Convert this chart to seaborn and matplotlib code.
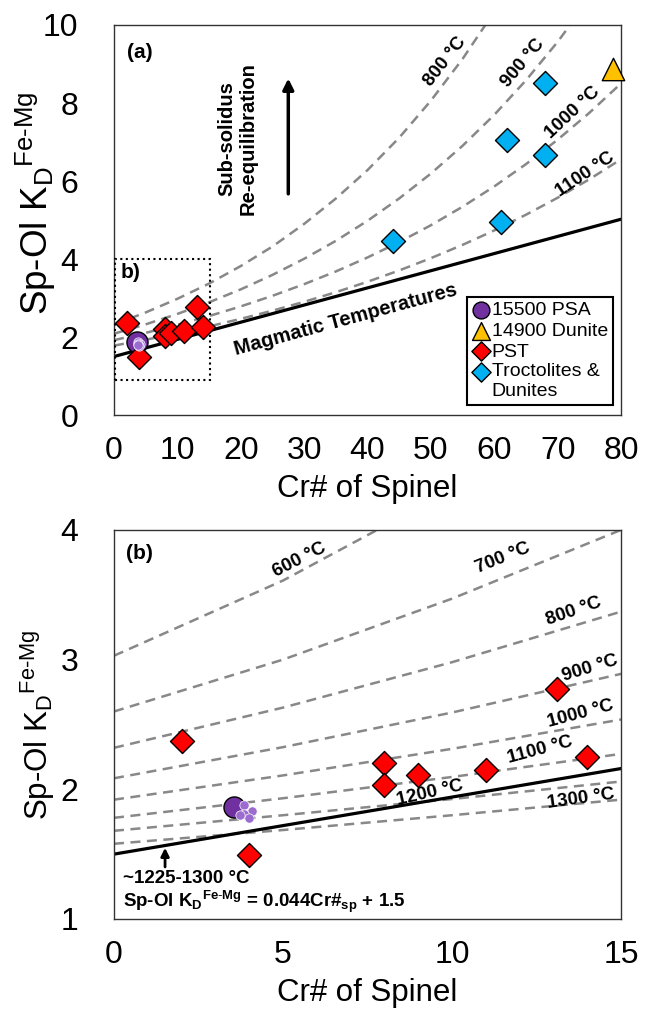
import numpy as np
import pandas as pd
import matplotlib
matplotlib.use("Agg")
import matplotlib.pyplot as plt
import seaborn as sns
from matplotlib.patches import Rectangle
from matplotlib.legend_handler import HandlerPathCollection

sns.set_theme(style="white")
plt.rcParams["font.family"] = ["Liberation Sans", "DejaVu Sans"]
plt.rcParams["mathtext.fontset"] = "custom"
plt.rcParams["mathtext.rm"] = "Liberation Sans"
plt.rcParams["mathtext.bf"] = "Liberation Sans:bold"
plt.rcParams["mathtext.it"] = "Liberation Sans:italic"
plt.rcParams["text.color"] = "black"
plt.rcParams["axes.labelcolor"] = "black"

# ---------------- data ----------------
psa_cr = [3.55]
psa_kd = [1.86]
psa_small_cr = [3.86, 4.08, 3.86, 4.00, 3.72]
psa_small_kd = [1.88, 1.83, 1.81, 1.78, 1.80]
dunite_cr = [78.8]
dunite_kd = [8.88]
pst_cr = [2, 4, 8, 8, 9, 11, 13.1, 14]
pst_kd = [2.37, 1.49, 2.20, 2.03, 2.11, 2.15, 2.77, 2.25]
troc_cr = [44, 61, 62, 68, 68]
troc_kd = [4.45, 4.96, 7.05, 6.67, 8.50]

# magmatic temperature line
mag_cr = [0, 80]
mag_kd = [1.5, 5.02]

# isotherms (dashed)
iso_cr = [0, 5, 10, 15, 20, 25, 30, 35, 40, 45, 50, 55, 60, 65, 70, 75, 80]
iso_800 = [2.32, 2.63, 2.98, 3.37, 3.82, 4.32, 4.90, 5.55, 6.28, 7.11, 8.06, 9.13, 10.34]
iso_900 = [2.085, 2.325, 2.592, 2.890, 3.222, 3.593, 4.006, 4.466, 4.980, 5.553,
           6.191, 6.903, 7.696, 8.581, 9.567, 10.668]
iso_1000 = [1.920, 2.107, 2.312, 2.538, 2.785, 3.057, 3.355, 3.681, 4.040, 4.434,
            4.866, 5.341, 5.861, 6.432, 7.059, 7.747, 8.502]
iso_1100 = [1.780, 1.931, 2.095, 2.273, 2.466, 2.676, 2.903, 3.149, 3.417, 3.707,
            4.022, 4.363, 4.733, 5.135, 5.571, 6.044, 6.557]
iso_600 = [3.03, 3.61, 4.31]
iso_700 = [2.60, 3.00, 3.47, 4.00]
iso_1200 = [1.68, 1.80, 1.925, 2.06]
iso_1300 = [1.58, 1.686, 1.80, 1.92]

top_isos = {"800": iso_800, "900": iso_900, "1000": iso_1000, "1100": iso_1100}
bot_isos = {"600": iso_600, "700": iso_700, "800": iso_800, "900": iso_900,
            "1000": iso_1000, "1100": iso_1100, "1200": iso_1200, "1300": iso_1300}

# ---------------- styling ----------------
PURPLE = "#7030A0"
LPURPLE = "#9B6BD0"
ORANGE = "#FFC000"
RED = "#FF0000"
BLUE = "#00B0F0"
GREY = "#888888"
DASH = (0, (4, 2.6))

fig = plt.figure(figsize=(6.53, 10.16), dpi=100)
ax1 = fig.add_axes([0.1746, 0.5915, 0.7764, 0.3839])
ax2 = fig.add_axes([0.1746, 0.0955, 0.7764, 0.3829])


def draw_lines(ax, isos):
    for name, vals in isos.items():
        sns.lineplot(x=iso_cr[:len(vals)], y=vals, ax=ax, color=GREY, lw=1.8,
                     linestyle=DASH, sort=False, estimator=None, zorder=1)
    sns.lineplot(x=mag_cr, y=mag_kd, ax=ax, color="black", lw=2.3,
                 sort=False, estimator=None, zorder=2)


def draw_points(ax):
    sns.scatterplot(x=psa_cr, y=psa_kd, ax=ax, marker="o", s=230, color=PURPLE,
                    edgecolor="black", linewidth=1.0, label="15500 PSA", zorder=5,
                    legend=False)
    sns.scatterplot(x=psa_small_cr, y=psa_small_kd, ax=ax, marker="o", s=45,
                    color=LPURPLE, edgecolor="white", linewidth=0.5, zorder=6,
                    legend=False)
    sns.scatterplot(x=dunite_cr, y=dunite_kd, ax=ax, marker="^", s=260, color=ORANGE,
                    edgecolor="black", linewidth=1.0, label="14900 Dunite", zorder=5,
                    clip_on=False, legend=False)
    sns.scatterplot(x=pst_cr, y=pst_kd, ax=ax, marker="D", s=150, color=RED,
                    edgecolor="black", linewidth=1.0, label="PST", zorder=5,
                    legend=False)
    sns.scatterplot(x=troc_cr, y=troc_kd, ax=ax, marker="D", s=150, color=BLUE,
                    edgecolor="black", linewidth=1.0, label="Troctolites &\nDunites",
                    zorder=5, legend=False)


YLABEL = r"Sp-Ol K$_\mathregular{D}$$^\mathregular{Fe\text{-}Mg}$"
for ax in (ax1, ax2):
    draw_lines(ax, top_isos if ax is ax1 else bot_isos)
    draw_points(ax)
    for sp in ax.spines.values():
        sp.set_visible(True)
        sp.set_color("#333333")
        sp.set_linewidth(1.0)
    ax.tick_params(axis="both", which="major", direction="out", length=7,
                   width=1.0, color="#333333", labelsize=23, labelcolor="black")
    ax.tick_params(axis="x", pad=8)
    ax.tick_params(axis="y", pad=18.5)
    ax.set_xlabel("Cr# of Spinel", fontsize=22.5, labelpad=6)
    ax.grid(False)

ax1.set_ylabel(YLABEL, fontsize=26.5)
ax1.yaxis.set_label_coords(-0.110, 0.542)
ax2.set_ylabel(YLABEL, fontsize=22.5)
ax2.yaxis.set_label_coords(-0.112, 0.499)


class UpHandler(HandlerPathCollection):
    def get_ydata(self, legend, xdescent, ydescent, width, height, fontsize):
        y = super().get_ydata(legend, xdescent, ydescent, width, height, fontsize)
        return np.asarray(y) + 0.55 * fontsize


# ---- top panel ----
ax1.set_xlim(0, 80)
ax1.set_ylim(0, 10)
ax1.set_xticks(range(0, 81, 10))
ax1.set_yticks(range(0, 11, 2))
handles, labels = ax1.get_legend_handles_labels()
keep = [i for i, l in enumerate(labels) if not l.startswith("_")]
handles = [handles[i] for i in keep]
labels = [labels[i] for i in keep]
leg = ax1.legend(handles, labels, loc="lower right", bbox_to_anchor=(0.984, 0.026),
                 fontsize=14, frameon=True, fancybox=False, framealpha=1,
                 edgecolor="black", handletextpad=0.1, handlelength=0.9,
                 labelspacing=0.15, borderpad=0.25, borderaxespad=0,
                 markerscale=0.8, scatterpoints=1,
                 handler_map={handles[-1]: UpHandler()})
leg.get_frame().set_linewidth(1.5)

ax1.text(2, 9.3, "(a)", fontsize=15, fontweight="bold", ha="left", va="center")
ax1.text(19.5, 7.1, "Sub-solidus\nRe-equilibration", fontsize=14.5, fontweight="bold",
         rotation=90, ha="center", va="center", multialignment="center",
         linespacing=1.1)
ax1.annotate("", xy=(27.5, 8.7), xytext=(27.5, 5.6),
             arrowprops=dict(arrowstyle="-|>", lw=2.5, color="black",
                             mutation_scale=16))
ax1.text(36.5, 2.45, "Magmatic Temperatures", fontsize=14.5, fontweight="bold",
         rotation=np.degrees(np.arctan(0.044)), transform_rotates_text=True,
         rotation_mode="anchor", ha="center", va="center")
ax1.add_patch(Rectangle((0.2, 0.9), 15.0, 3.1, fill=False, ls=":", lw=1.5,
                        ec="black", zorder=3))
ax1.text(1.0, 3.65, "b)", fontsize=15, fontweight="bold", ha="left", va="center")

top_labels = [("800 °C", 52.3, 9.05, 52), ("900 °C", 64.6, 9.03, 50),
              ("1000 °C", 72.4, 7.75, 43), ("1100 °C", 74.4, 6.17, 34)]
for txt, x, y, r in top_labels:
    ax1.text(x, y, txt, fontsize=13.5, fontweight="bold", rotation=r,
             rotation_mode="anchor", ha="center", va="center")

# ---- bottom panel ----
ax2.set_xlim(0, 15)
ax2.set_ylim(1, 4)
ax2.set_xticks([0, 5, 10, 15])
ax2.set_yticks([1, 2, 3, 4])

ax2.text(0.35, 3.82, "(b)", fontsize=15, fontweight="bold", ha="left", va="center")
bot_labels = [("600 °C", 5.48, 3.77, 27), ("700 °C", 11.5, 3.78, 22),
              ("800 °C", 13.6, 3.37, 19), ("900 °C", 14.1, 2.93, 17),
              ("1000 °C", 13.8, 2.58, 15), ("1100 °C", 12.6, 2.30, 15),
              ("1200 °C", 9.34, 1.97, 13), ("1300 °C", 13.8, 1.93, 8)]
for txt, x, y, r in bot_labels:
    ax2.text(x, y, txt, fontsize=13.5, fontweight="bold", rotation=r,
             rotation_mode="anchor", ha="center", va="center")

ax2.annotate("", xy=(1.51, 1.57), xytext=(1.51, 1.38),
             arrowprops=dict(arrowstyle="-|>", lw=2.0, color="black",
                             mutation_scale=12))
ax2.text(0.26, 1.31, "~1225-1300 °C", fontsize=13.5, fontweight="bold",
         ha="left", va="center")
ax2.text(0.26, 1.13,
         r"Sp-Ol K$_\mathbf{D}$$^\mathbf{Fe\text{-}Mg}$ = 0.044Cr#$_\mathbf{sp}$ + 1.5",
         fontsize=13.5, fontweight="bold", ha="left", va="center")

fig.savefig("out.png", dpi=100)
